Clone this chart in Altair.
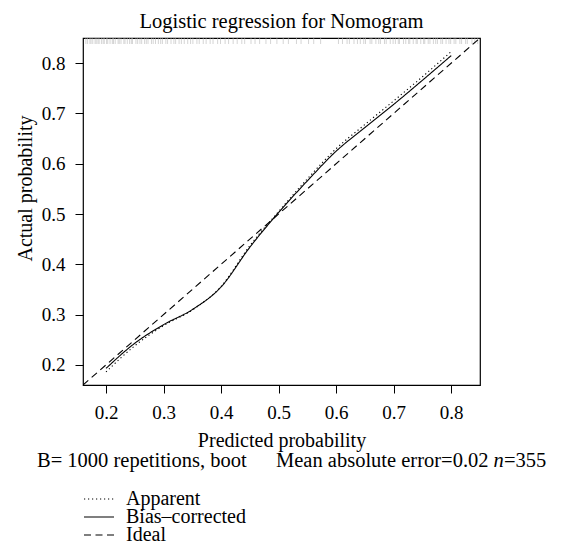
import altair as alt
import pandas as pd

# ---- data ----
pred_x = [0.20, 0.25, 0.30, 0.35, 0.40, 0.45, 0.50, 0.55, 0.60, 0.65, 0.70, 0.75, 0.80]
apparent_y = [0.186, 0.238, 0.278, 0.309, 0.356, 0.437, 0.505, 0.570, 0.630, 0.678, 0.725, 0.773, 0.823]
bias_y = [0.193, 0.243, 0.280, 0.310, 0.355, 0.434, 0.503, 0.566, 0.625, 0.672, 0.718, 0.766, 0.815]
ideal_x = [0.16, 0.85]
ideal_y = [0.16, 0.85]
series_names = ["Apparent", "Bias\u2013corrected", "Ideal"]
tick_values = [0.2, 0.3, 0.4, 0.5, 0.6, 0.7, 0.8]
axis_domain = [0.16, 0.85]
rug_x = [0.165, 0.168, 0.172, 0.174, 0.177, 0.181, 0.183, 0.186, 0.188, 0.192, 0.195, 0.197,
         0.201, 0.203, 0.207, 0.211, 0.213, 0.216, 0.221, 0.223, 0.226, 0.231, 0.233, 0.237,
         0.241, 0.244, 0.246, 0.252, 0.255, 0.259, 0.262, 0.267, 0.27, 0.273, 0.279, 0.282,
         0.286, 0.291, 0.295, 0.298, 0.304, 0.307, 0.313, 0.318, 0.321, 0.327, 0.331, 0.336,
         0.342, 0.347, 0.351, 0.358, 0.362, 0.369, 0.374, 0.381, 0.386, 0.394, 0.399, 0.407,
         0.413, 0.421, 0.428, 0.436, 0.441, 0.452, 0.459, 0.467, 0.478, 0.486, 0.497, 0.508,
         0.517, 0.531, 0.539, 0.552, 0.561, 0.573, 0.604, 0.611, 0.619, 0.623, 0.631, 0.637,
         0.642, 0.648, 0.651, 0.659, 0.662, 0.669, 0.674, 0.677, 0.684, 0.687, 0.694, 0.699,
         0.703, 0.708, 0.71, 0.717, 0.721, 0.726, 0.728, 0.734, 0.739, 0.741, 0.747, 0.752,
         0.754, 0.76, 0.763, 0.769, 0.773, 0.776, 0.782, 0.785, 0.791, 0.796, 0.799, 0.805,
         0.808, 0.815, 0.818, 0.825, 0.828, 0.836, 0.841, 0.846]

FONT = "Liberation Serif"

rows = []
for i, (x, y) in enumerate(zip(pred_x, apparent_y)):
    rows.append({"series": series_names[0], "x": x, "y": y, "o": i})
for i, (x, y) in enumerate(zip(pred_x, bias_y)):
    rows.append({"series": series_names[1], "x": x, "y": y, "o": i})
for i, (x, y) in enumerate(zip(ideal_x, ideal_y)):
    rows.append({"series": series_names[2], "x": x, "y": y, "o": i})
lines_df = pd.DataFrame(rows)
rug_df = pd.DataFrame({"x": rug_x})

xscale = alt.Scale(domain=axis_domain, nice=False, zero=False)
yscale = alt.Scale(domain=axis_domain, nice=False, zero=False)

lines = alt.Chart(lines_df).mark_line(
    color="black", strokeWidth=1.1, interpolate="monotone", clip=True
).encode(
    x=alt.X("x:Q", scale=xscale,
            axis=alt.Axis(values=tick_values, format=".1f", title="Predicted probability",
                          labelPadding=10, titleY=61, titleBaseline="alphabetic")),
    y=alt.Y("y:Q", scale=yscale,
            axis=alt.Axis(values=tick_values, format=".1f", title="Actual probability",
                          labelPadding=10, titleAngle=270, titleX=-52, titleY=150,
                          titleBaseline="alphabetic", titleAlign="center")),
    strokeDash=alt.StrokeDash(
        "series:N",
        scale=alt.Scale(domain=series_names, range=[[1.2, 2.8], [1, 0], [7, 4.5]]),
        legend=alt.Legend(title=None, orient="none", legendX=0, legendY=453,
                          symbolType="stroke", symbolSize=900, symbolStrokeWidth=1.1,
                          symbolStrokeColor="black", labelFont=FONT, labelFontSize=20,
                          labelColor="black", labelOffset=11, rowPadding=-7, padding=0,
                          clipHeight=16),
    ),
    order="o:Q",
)

rug = alt.Chart(rug_df).mark_rule(color="#b8b8b8", strokeWidth=0.6).encode(
    x=alt.X("x:Q", scale=xscale), y=alt.value(0), y2=alt.value(6)
)

def label(txt, x, y, align="left", style="normal"):
    return alt.Chart(pd.DataFrame({"t": [txt]})).mark_text(
        font=FONT, fontSize=20.5, fontStyle=style, align=align, baseline="alphabetic", color="black"
    ).encode(text="t:N", x=alt.value(x), y=alt.value(y))

t1 = label("B= 1000 repetitions, boot", -46, 467 - 38)
t2 = label("Mean absolute error=0.02", 193, 467 - 38)
t3 = label("n", 410.6, 467 - 38, style="italic")
t4 = label("=355", 421, 467 - 38)

chart = alt.layer(rug, lines, t1, t2, t3, t4).properties(
    width=397, height=347,
    title=alt.TitleParams("Logistic regression for Nomogram", font=FONT, fontSize=20.5,
                          fontWeight="normal", color="black", anchor="middle",
                          baseline="alphabetic", offset=12, dy=23),
    autosize=alt.AutoSizeParams(type="none"),
    padding={"left": 75, "top": 30, "right": 76, "bottom": 159},
).configure_view(stroke="black", strokeWidth=1.2).configure_axis(
    domain=False, grid=False, tickColor="black", tickSize=8, tickWidth=1,
    labelFont=FONT, labelFontSize=19, labelColor="black",
    titleFont=FONT, titleFontSize=20, titleFontWeight="normal", titleColor="black",
)

chart.save("out.html", embed_options={"renderer": "svg", "actions": False})
